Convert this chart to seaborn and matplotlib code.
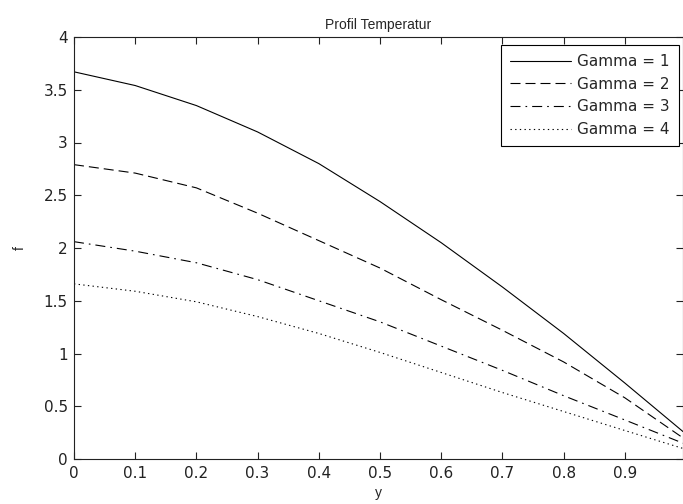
import matplotlib
matplotlib.use("Agg")
import matplotlib.pyplot as plt
import seaborn as sns
import numpy as np
import pandas as pd

# ---- data ----
y_pos = [0.0, 0.1, 0.2, 0.3, 0.4, 0.5, 0.6, 0.7, 0.8, 0.9, 0.995]
gamma1 = [3.67, 3.54, 3.35, 3.10, 2.80, 2.44, 2.05, 1.63, 1.19, 0.72, 0.26]
gamma2 = [2.79, 2.71, 2.57, 2.33, 2.07, 1.81, 1.51, 1.22, 0.92, 0.58, 0.20]
gamma3 = [2.06, 1.97, 1.86, 1.70, 1.50, 1.30, 1.07, 0.84, 0.60, 0.37, 0.15]
gamma4 = [1.66, 1.59, 1.49, 1.35, 1.19, 1.01, 0.82, 0.63, 0.45, 0.27, 0.10]
labels = ["Gamma = 1", "Gamma = 2", "Gamma = 3", "Gamma = 4"]
x_ticks = [0, 0.1, 0.2, 0.3, 0.4, 0.5, 0.6, 0.7, 0.8, 0.9]
x_tick_labels = ["0", "0.1", "0.2", "0.3", "0.4", "0.5", "0.6", "0.7", "0.8", "0.9"]
y_ticks = [0, 0.5, 1, 1.5, 2, 2.5, 3, 3.5, 4]
y_tick_labels = ["0", "0.5", "1", "1.5", "2", "2.5", "3", "3.5", "4"]
title = "Profil Temperatur"
x_label = "y"
y_label = "f"

sns.set_style("ticks")
plt.rcParams["font.family"] = ["Liberation Sans", "DejaVu Sans"]
plt.rcParams["xtick.direction"] = "in"
plt.rcParams["ytick.direction"] = "in"

fig = plt.figure(figsize=(6.83, 5.04), dpi=100)
ax = fig.add_axes([74 / 683, 45 / 504, 609 / 683, 422 / 504])

styles = ["-", (0, (9, 4.5)), (0, (9, 4.5, 1.5, 4.5)), (0, (1.2, 3))]
series = [gamma1, gamma2, gamma3, gamma4]
for vals, lab, ls in zip(series, labels, styles):
    df = pd.DataFrame({"y": y_pos, "f": vals})
    sns.lineplot(data=df, x="y", y="f", ax=ax, color="black", linewidth=0.8,
                 linestyle=ls, label=lab)

ax.set_xlim(0, 0.995)
ax.set_ylim(0, 4)
ax.set_xticks(x_ticks)
ax.set_xticklabels(x_tick_labels)
ax.set_yticks(y_ticks)
ax.set_yticklabels(y_tick_labels)
ax.tick_params(axis="both", which="both", direction="in", length=5, width=0.8,
               top=True, right=True, labelsize=11, colors="#222222")
ax.tick_params(axis="x", pad=5)
ax.tick_params(axis="y", pad=4.5)
for t in ax.get_xticklabels() + ax.get_yticklabels():
    t.set_fontfamily("DejaVu Sans")
for s in ax.spines.values():
    s.set_visible(True)
    s.set_linewidth(0.8)
    s.set_color("#222222")

ax.set_xlabel(x_label, fontsize=10, labelpad=4)
ax.set_ylabel(y_label, fontsize=10, labelpad=12, rotation=90)
ax.set_title(title, fontsize=10, pad=6)

leg = ax.legend(loc="upper right", bbox_to_anchor=(0.993, 0.981), borderaxespad=0,
                frameon=True, fancybox=False, edgecolor="black",
                prop={"family": "DejaVu Sans", "size": 11},
                handlelength=4.0, handletextpad=0.4, labelspacing=0.5,
                borderpad=0.6, framealpha=1)
leg.get_frame().set_linewidth(0.8)

fig.savefig("out.png", dpi=100)
